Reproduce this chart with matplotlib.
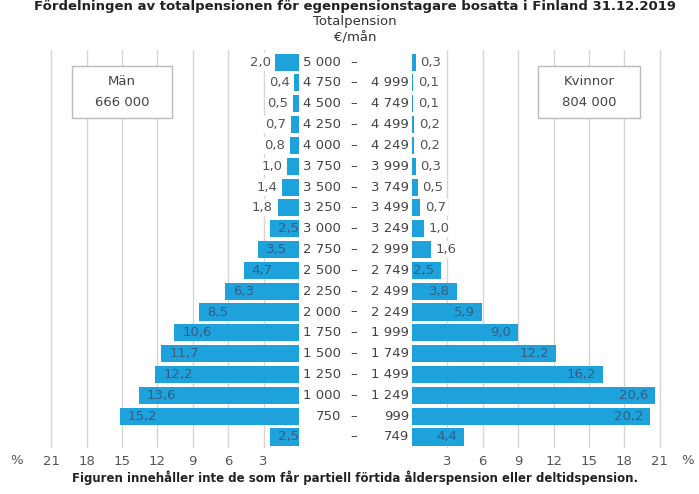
import matplotlib
matplotlib.use("Agg")
from matplotlib import pyplot as plt
from matplotlib.patches import Rectangle
import matplotlib.transforms as mtransforms

# pension brackets, top to bottom (EUR / month)
lower = ['5 000', '4 750', '4 500', '4 250', '4 000', '3 750', '3 500', '3 250',
         '3 000', '2 750', '2 500', '2 250', '2 000', '1 750', '1 500', '1 250',
         '1 000', '750', '']
upper = ['', '4 999', '4 749', '4 499', '4 249', '3 999', '3 749', '3 499',
         '3 249', '2 999', '2 749', '2 499', '2 249', '1 999', '1 749', '1 499',
         '1 249', '999', '749']
men = [2.0, 0.4, 0.5, 0.7, 0.8, 1.0, 1.4, 1.8, 2.5, 3.5, 4.7, 6.3, 8.5, 10.6,
       11.7, 12.2, 13.6, 15.2, 2.5]
women = [0.3, 0.1, 0.1, 0.2, 0.2, 0.3, 0.5, 0.7, 1.0, 1.6, 2.5, 3.8, 5.9, 9.0,
         12.2, 16.2, 20.6, 20.2, 4.4]
ticks = [3, 6, 9, 12, 15, 18, 21]

W, H = 699, 494
blue = '#1ea2dc'
inner = '#355d82'
grey = '#555555'
fs = 9.5

fig = plt.figure(figsize=(W / 100, H / 100), dpi=100)

def fx(px):
    return px / W

def fy(py):
    return 1 - py / H

scale = 11.8  # px per percent
top, bot = 50, 448
ax_m = fig.add_axes([fx(10), fy(bot), fx(299 - 10), (bot - top) / H])
ax_w = fig.add_axes([fx(412), fy(bot), fx(695 - 412), (bot - top) / H])

n = len(men)
ys = [-i for i in range(n)]

for ax, vals in ((ax_m, men), (ax_w, women)):
    ax.barh(ys, vals, height=0.82, color=blue, zorder=2)
    ax.set_ylim(-n + 0.47, 0.58)
    ax.set_xticks(ticks)
    ax.set_xticklabels([str(t) for t in ticks], color=grey, fontsize=fs)
    ax.tick_params(axis='x', length=0, pad=5)
    ax.set_yticks([])
    ax.grid(axis='x', color='#d6d6d6', linewidth=1, zorder=0)
    ax.set_axisbelow(True)
    for s in ax.spines.values():
        s.set_visible(False)

ax_m.set_xlim((299 - 10) / scale, 0)
ax_w.set_xlim(0, (695 - 412) / scale)

def fmt(v):
    return ('%.1f' % v).replace('.', ',')

for y, v in zip(ys, men):
    if v >= 2.5:
        ax_m.text(v - 0.7, y, fmt(v), ha='left', va='center', fontsize=fs,
                  color=inner, zorder=3)
    else:
        ax_m.text(v + 0.4, y, fmt(v), ha='right', va='center', fontsize=fs,
                  color=grey, zorder=3,
                  bbox=dict(facecolor='white', edgecolor='none', pad=1.5))

for y, v in zip(ys, women):
    if v >= 2.5:
        ax_w.text(v - 0.6, y, fmt(v), ha='right', va='center', fontsize=fs,
                  color=inner, zorder=3)
    else:
        ax_w.text(v + 0.4, y, fmt(v), ha='left', va='center', fontsize=fs,
                  color=grey, zorder=3,
                  bbox=dict(facecolor='white', edgecolor='none', pad=1.5))

# bracket labels in the middle
tr = mtransforms.blended_transform_factory(fig.transFigure, ax_m.transData)
for y, lo, hi in zip(ys, lower, upper):
    if lo:
        fig.text(fx(341), y, lo, transform=tr, ha='right', va='center',
                 fontsize=fs, color='#444444')
    fig.text(fx(354), y, '\u2013', transform=tr, ha='center', va='center',
             fontsize=fs, color='#444444')
    if hi:
        fig.text(fx(409), y, hi, transform=tr, ha='right', va='center',
                 fontsize=fs, color='#444444')

# percent signs
fig.text(fx(17), fy(460), '%', ha='center', va='center', fontsize=fs, color=grey)
fig.text(fx(688), fy(460), '%', ha='center', va='center', fontsize=fs, color=grey)

# boxes
for x0, x1, l1, l2 in ((72, 172, 'Män', '666 000'), (538, 640, 'Kvinnor', '804 000')):
    fig.patches.append(Rectangle((fx(x0), fy(118)), fx(x1 - x0), (118 - 66) / H,
                                 transform=fig.transFigure, facecolor='white',
                                 edgecolor='#bbbbbb', linewidth=1, zorder=5))
    cx = fx((x0 + x1) / 2)
    fig.text(cx, fy(81), l1, ha='center', va='center', fontsize=fs, color='#444444', zorder=6)
    fig.text(cx, fy(102), l2, ha='center', va='center', fontsize=fs, color='#444444', zorder=6)

fig.text(fx(355), fy(22), 'Totalpension', ha='center', va='center', fontsize=fs, color='#333333')
fig.text(fx(355), fy(38), '€/mån', ha='center', va='center', fontsize=fs, color='#333333')

fig.text(fx(355), fy(10), 'Fördelningen av totalpensionen för egenpensionstagare bosatta i Finland 31.12.2019',
         ha='center', va='baseline', fontsize=9.5, fontweight='bold', color='#222222')
fig.text(fx(355), fy(478), 'Figuren innehåller inte de som får partiell förtida ålderspension eller deltidspension.',
         ha='center', va='center', fontsize=8.5, fontweight='bold', color='#222222')

fig.savefig('out.png', dpi=100)
